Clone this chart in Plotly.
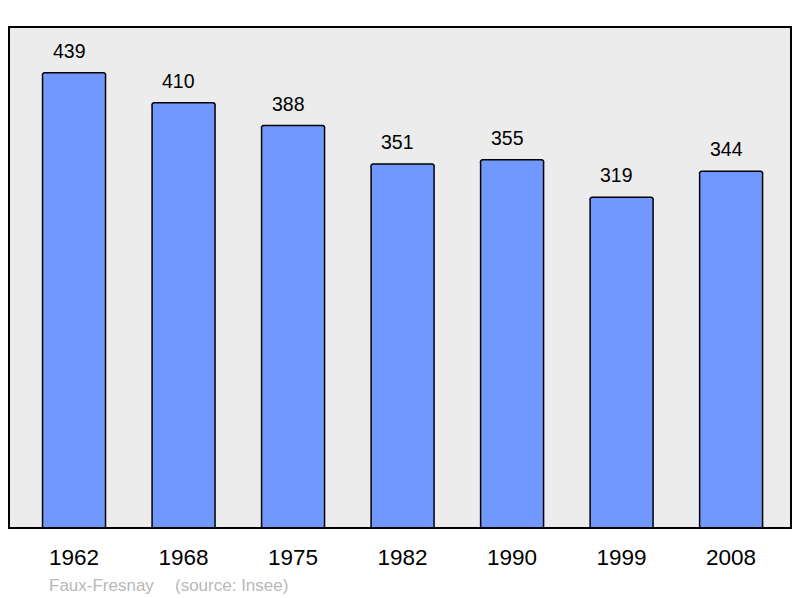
import plotly.graph_objects as go

years = ["1962", "1968", "1975", "1982", "1990", "1999", "2008"]
population = [439, 410, 388, 351, 355, 319, 344]
commune = "Faux-Fresnay"
source = "(source: Insee)"

xpos = list(range(len(years)))
FONT = "Liberation Sans, Arial, sans-serif"

fig = go.Figure()
fig.add_trace(go.Bar(
    x=xpos, y=population, width=0.575,
    marker=dict(color="#7098ff", line=dict(color="#000000", width=1.5), cornerradius=3),
    hoverinfo="skip",
))

for xi, v in zip(xpos, population):
    fig.add_annotation(x=xi, y=v, text=str(v), showarrow=False, xref="x", yref="y",
                       yanchor="bottom", yshift=9, xshift=-5,
                       font=dict(family=FONT, size=19.5, color="#000000"))

fig.add_annotation(x=(47 - 9) / 782, y=-0.114, xref="paper", yref="paper", text=commune, showarrow=False,
                   xanchor="left", yanchor="middle",
                   font=dict(family=FONT, size=17, color="#b8b8b8"))
fig.add_annotation(x=(173 - 9) / 782, y=-0.114, xref="paper", yref="paper", text=source, showarrow=False,
                   xanchor="left", yanchor="middle",
                   font=dict(family=FONT, size=17, color="#b8b8b8"))

fig.add_shape(type="rect", xref="paper", yref="paper", x0=0, y0=0, x1=1, y1=1,
              line=dict(color="#000000", width=2), fillcolor="rgba(0,0,0,0)", layer="above")

fig.update_layout(
    width=800, height=598,
    margin=dict(l=9, r=9, t=27, b=70),
    paper_bgcolor="#ffffff",
    plot_bgcolor="#ececec",
    showlegend=False,
    bargap=0,
    xaxis=dict(range=[-0.594, 6.547], tickvals=xpos, ticktext=years, showgrid=False, zeroline=False,
               ticks="", ticklabelstandoff=13,
               tickfont=dict(family=FONT, size=22.5, color="#000000")),
    yaxis=dict(range=[0, 483.1], showgrid=False, zeroline=False, showticklabels=False, ticks=""),
)

fig.write_html("out.html", config={"displayModeBar": False, "staticPlot": True},
               post_script="document.body.style.margin='0';document.body.style.overflow='hidden';")
